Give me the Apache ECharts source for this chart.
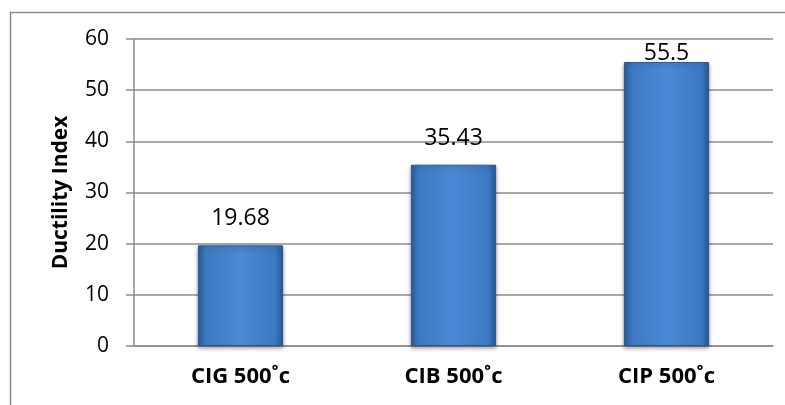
<!DOCTYPE html>
<html>
<head>
<meta charset="utf-8">
<script src="https://cdn.jsdelivr.net/npm/echarts@6/dist/echarts.min.js"></script>
<style>
  html, body { margin: 0; padding: 0; background: #fff; }
  #chart { width: 785px; height: 405px; }
</style>
</head>
<body>
<div id="chart"></div>
<script>
// categories and values
var categories = ["CIG 500˚c", "CIB 500˚c", "CIP 500˚c"];
var ductility = [19.68, 35.43, 55.5];
var yTicks = { min: 0, max: 60, step: 10 };

var chart = echarts.init(document.getElementById("chart"));

var barColor = new echarts.graphic.LinearGradient(0, 0, 1, 0, [
  { offset: 0, color: "#2b5e9c" },
  { offset: 0.1, color: "#3d7ac3" },
  { offset: 0.5, color: "#4a89d5" },
  { offset: 0.9, color: "#3d7ac3" },
  { offset: 1, color: "#2a5b97" }
]);

var option = {
  animation: false,
  graphic: [
    {
      type: "rect",
      shape: { x: 10.5, y: 12.5, width: 800, height: 420 },
      style: { fill: "none", stroke: "#8c8c8c", lineWidth: 1.5 }
    }
  ],
  grid: { left: 134, right: 12, top: 39, bottom: 59 },
  xAxis: {
    type: "category",
    data: categories,
    axisLine: { lineStyle: { color: "#8c8c8c", width: 1.5 } },
    axisTick: { show: false },
    axisLabel: {
      margin: 20,
      fontFamily: "Open Sans",
      fontWeight: "bold",
      fontSize: 22,
      color: "#000"
    }
  },
  yAxis: {
    type: "value",
    min: yTicks.min,
    max: yTicks.max,
    interval: yTicks.step,
    name: "Ductility Index",
    nameLocation: "middle",
    nameGap: 62,
    nameTextStyle: {
      fontFamily: "Open Sans",
      fontWeight: "bold",
      fontSize: 21,
      color: "#000"
    },
    axisLine: { show: true, lineStyle: { color: "#8c8c8c", width: 1.5 } },
    axisTick: { show: true, length: 8, lineStyle: { color: "#8c8c8c", width: 1.5 } },
    axisLabel: {
      margin: 25,
      fontFamily: "Open Sans",
      fontSize: 21,
      color: "#000"
    },
    splitLine: { lineStyle: { color: "#8c8c8c", width: 1.5 } }
  },
  series: [
    {
      type: "bar",
      data: ductility.map(function (v, i) {
        // the last label sits right on its bar, as in the picture
        return { value: v, label: { distance: i === ductility.length - 1 ? -3 : 15 } };
      }),
      barWidth: "40%",
      itemStyle: {
        color: barColor,
        borderColor: "#2c5a92",
        borderWidth: 1,
        shadowColor: "rgba(0,0,0,0.35)",
        shadowBlur: 4,
        shadowOffsetY: 2
      },
      label: {
        show: true,
        position: "top",
        fontFamily: "Open Sans",
        fontSize: 23,
        color: "#000"
      }
    }
  ]
};

chart.setOption(option);
</script>
</body>
</html>
